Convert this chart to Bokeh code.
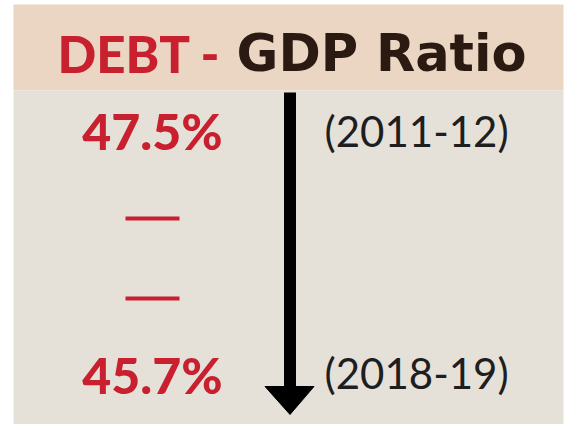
from bokeh.plotting import figure
from bokeh.models import Range1d, ColumnDataSource
from bokeh.core.properties import value
from bokeh.embed import file_html
from bokeh.resources import INLINE

# ---- data ----
title_red = "DEBT -"
title_dark = "GDP Ratio"
ratios = ["47.5%", "45.7%"]
years = ["(2011-12)", "(2018-19)"]

# ---- colours ----
RED = "#C8202F"
DARK = "#2B1A12"
HEADER = "#EBD5C3"
BODY = "#E6E1D8"
HEAVY = "'Lato Black', 'Lato Heavy', Lato"

# ---- layout (reference pixel coordinates) ----
row_baselines = [130, 374]
year_baselines = [130, 372]
value_x = 152
year_x = 324
arrow_x = 289.5
sep_y = [218, 298]

p = figure(width=570, height=424, output_backend="svg", toolbar_location=None,
           x_range=Range1d(0, 570), y_range=Range1d(424, 0),
           min_border=0, outline_line_color=None,
           background_fill_color="white", border_fill_color="white")
p.axis.visible = False
p.grid.visible = False

# panels
p.quad(left=[13], right=[563], top=[4], bottom=[90], fill_color=HEADER, line_color=None)
p.quad(left=[13], right=[563], top=[90], bottom=[430], fill_color=BODY, line_color=None)

# title
p.text(x=[57], y=[53], text=[title_red], text_color=RED, text_font=value(HEAVY),
       text_font_style="bold", text_font_size="51px", text_align="left",
       text_baseline="alphabetic")
p.text(x=[526], y=[53], text=[title_dark], text_color=DARK, text_font=value("DejaVu Sans"),
       text_font_style="bold", text_font_size="51px", text_align="right",
       text_baseline="alphabetic")

# ratio values
src_v = ColumnDataSource(dict(x=[value_x] * len(ratios), y=row_baselines, t=ratios))
p.text(x="x", y="y", text="t", source=src_v, text_color=RED, text_font=value(HEAVY),
       text_font_style="bold", text_font_size="50px", text_align="center",
       text_baseline="alphabetic")

# separators between values
p.segment(x0=[value_x - 27] * 2, x1=[value_x + 27] * 2, y0=sep_y, y1=sep_y,
          line_color=RED, line_width=4)

# years
src_y = ColumnDataSource(dict(x=[year_x] * len(years), y=year_baselines, t=years))
p.text(x="x", y="y", text="t", source=src_y, text_color="#1E1E1E", text_font=value("Lato"),
       text_font_size="42px", text_align="left", text_baseline="alphabetic")

# arrow showing the decline
p.segment(x0=[arrow_x], x1=[arrow_x], y0=[92], y1=[390], line_color="black", line_width=12)
p.patch(x=[arrow_x - 25, arrow_x + 24, arrow_x], y=[386, 386, 414],
        fill_color="black", line_color="black")

open("out.html", "w").write(file_html(p, INLINE))
